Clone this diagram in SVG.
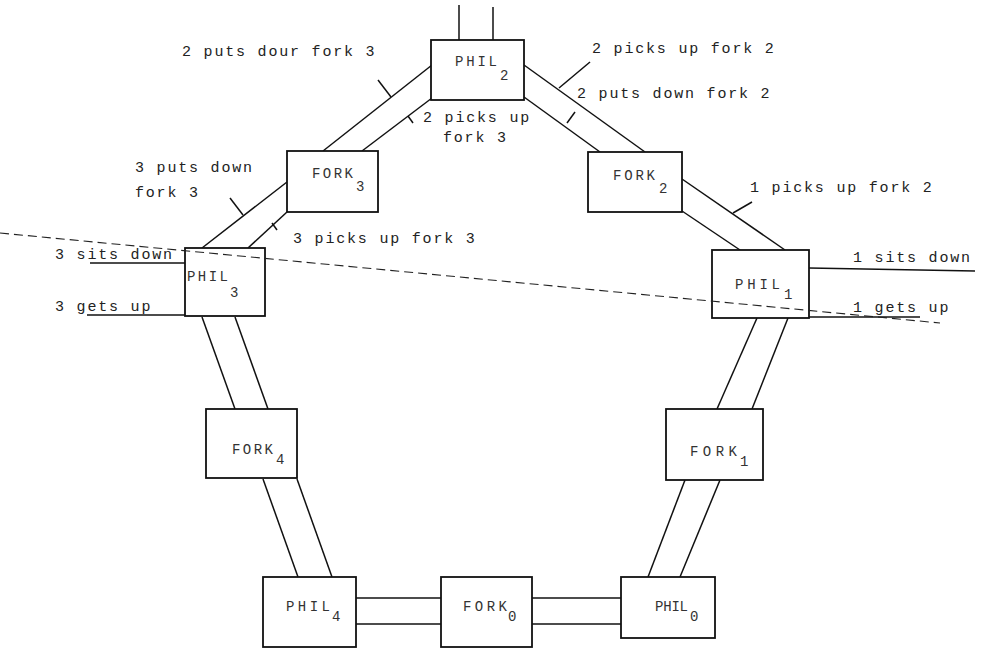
<svg xmlns="http://www.w3.org/2000/svg" width="986" height="650" viewBox="0 0 986 650">
<style>
.bg{fill:#ffffff}
.box{fill:#ffffff;stroke:#111;stroke-width:1.8}
.ln{stroke:#111;stroke-width:1.5;fill:none}
.dash{stroke:#222;stroke-width:1.1;stroke-dasharray:9 5;fill:none}
.lbl{font-family:"Liberation Mono","DejaVu Sans Mono",monospace;font-size:15px;letter-spacing:1.8px;fill:#222}
.nm{font-family:"Liberation Mono","DejaVu Sans Mono",monospace;font-size:14px;fill:#333}
</style>
<rect class="bg" x="0" y="0" width="986" height="650"/>
<g id="connectors">
<line class="ln" x1="459" y1="5" x2="459" y2="40"/>
<line class="ln" x1="493" y1="7" x2="493" y2="40"/>
<line class="ln" x1="432" y1="65" x2="323" y2="151"/>
<line class="ln" x1="432" y1="98" x2="362" y2="151"/>
<line class="ln" x1="391" y1="97" x2="378" y2="80"/>
<line class="ln" x1="408" y1="116" x2="413" y2="123"/>
<line class="ln" x1="524" y1="65" x2="645" y2="152"/>
<line class="ln" x1="524" y1="97" x2="600" y2="152"/>
<line class="ln" x1="559" y1="88" x2="590" y2="62"/>
<line class="ln" x1="567" y1="123" x2="575" y2="112"/>
<line class="ln" x1="682" y1="179" x2="785" y2="250"/>
<line class="ln" x1="682" y1="211" x2="740" y2="250"/>
<line class="ln" x1="733" y1="213" x2="752" y2="202"/>
<line class="ln" x1="809" y1="268" x2="975" y2="271"/>
<line class="ln" x1="809" y1="317" x2="920" y2="317"/>
<line class="ln" x1="287" y1="182" x2="202" y2="248"/>
<line class="ln" x1="287" y1="212" x2="248" y2="248"/>
<line class="ln" x1="243" y1="215" x2="230" y2="198"/>
<line class="ln" x1="272" y1="223" x2="277" y2="230"/>
<line class="ln" x1="90" y1="263" x2="185" y2="263"/>
<line class="ln" x1="87" y1="315" x2="185" y2="315"/>
<line class="ln" x1="202" y1="317" x2="235" y2="409"/>
<line class="ln" x1="235" y1="317" x2="268" y2="409"/>
<line class="ln" x1="263" y1="479" x2="298" y2="577"/>
<line class="ln" x1="297" y1="479" x2="332" y2="577"/>
<line class="ln" x1="356" y1="598" x2="441" y2="598"/>
<line class="ln" x1="356" y1="624" x2="441" y2="624"/>
<line class="ln" x1="532" y1="598" x2="621" y2="598"/>
<line class="ln" x1="532" y1="624" x2="621" y2="624"/>
<line class="ln" x1="757" y1="318" x2="717" y2="409"/>
<line class="ln" x1="788" y1="318" x2="752" y2="409"/>
<line class="ln" x1="685" y1="480" x2="648" y2="577"/>
<line class="ln" x1="720" y1="480" x2="680" y2="577"/>
</g>
<g id="PHIL2"><rect class="box" x="431" y="40" width="93" height="60"/><text class="nm" x="455" y="66" textLength="42">PHIL</text><text class="nm" x="500" y="80">2</text></g>
<g id="FORK3"><rect class="box" x="287" y="151" width="91" height="61"/><text class="nm" x="312" y="178" textLength="41">FORK</text><text class="nm" x="356" y="191">3</text></g>
<g id="FORK2"><rect class="box" x="588" y="152" width="94" height="60"/><text class="nm" x="613" y="180" textLength="42">FORK</text><text class="nm" x="659" y="193">2</text></g>
<g id="PHIL3"><rect class="box" x="185" y="248" width="80" height="68"/><text class="nm" x="187" y="281" textLength="41">PHIL</text><text class="nm" x="230" y="297">3</text></g>
<g id="PHIL1"><rect class="box" x="712" y="250" width="97" height="68"/><text class="nm" x="735" y="289" textLength="45">PHIL</text><text class="nm" x="784" y="299">1</text></g>
<g id="FORK4"><rect class="box" x="206" y="409" width="91" height="69"/><text class="nm" x="232" y="454" textLength="41">FORK</text><text class="nm" x="276" y="464">4</text></g>
<g id="FORK1"><rect class="box" x="666" y="409" width="97" height="71"/><text class="nm" x="690" y="456" textLength="47">FORK</text><text class="nm" x="740" y="466">1</text></g>
<g id="PHIL4"><rect class="box" x="263" y="577" width="93" height="70"/><text class="nm" x="286" y="611" textLength="44">PHIL</text><text class="nm" x="332" y="621">4</text></g>
<g id="FORK0"><rect class="box" x="441" y="577" width="91" height="70"/><text class="nm" x="463" y="611" textLength="44">FORK</text><text class="nm" x="508" y="621">0</text></g>
<g id="PHIL0"><rect class="box" x="621" y="577" width="94" height="61"/><text class="nm" x="655" y="611" textLength="33">PHIL</text><text class="nm" x="690" y="621">0</text></g>
<g id="labels">
<text class="lbl" x="182" y="56">2 puts dour fork 3</text>
<text class="lbl" x="592" y="53">2 picks up fork 2</text>
<text class="lbl" x="577" y="98">2 puts down fork 2</text>
<text class="lbl" x="423" y="122">2 picks up</text>
<text class="lbl" x="443" y="142">fork 3</text>
<text class="lbl" x="135" y="172">3 puts down</text>
<text class="lbl" x="135" y="197">fork 3</text>
<text class="lbl" x="750" y="192">1 picks up fork 2</text>
<text class="lbl" x="293" y="243">3 picks up fork 3</text>
<text class="lbl" x="55" y="259">3 sits down</text>
<text class="lbl" x="55" y="311">3 gets up</text>
<text class="lbl" x="853" y="262">1 sits down</text>
<text class="lbl" x="853" y="312">1 gets up</text>
</g>
<g id="scanline">
<line class="dash" x1="0" y1="233" x2="940" y2="323"/>
</g>
</svg>
